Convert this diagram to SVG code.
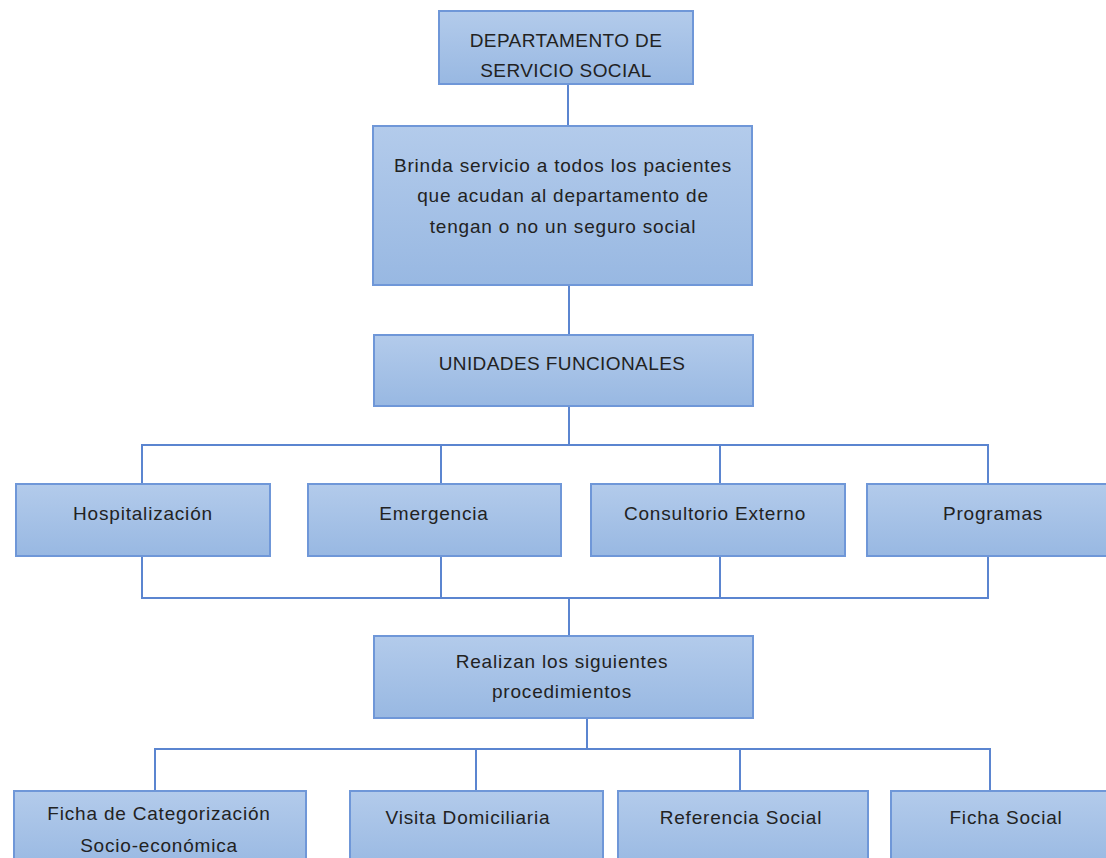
<svg xmlns="http://www.w3.org/2000/svg" width="1106" height="858" viewBox="0 0 1106 858">
<defs>
<linearGradient id="g" x1="0" y1="0" x2="0" y2="1">
<stop offset="0" stop-color="#b3cbeb"/>
<stop offset="1" stop-color="#98b8e2"/>
</linearGradient>
</defs>
<style>
.box{fill:url(#g);stroke:#6f97d8;stroke-width:2}
.t{font-family:"Liberation Sans",Arial,sans-serif;font-size:19px;letter-spacing:0.8px;fill:#222;text-anchor:middle}
.u{letter-spacing:0.4px}
.c{fill:none;stroke:#5b85d0;stroke-width:2}
</style>
<rect width="1106" height="858" fill="#fff"/>
<g id="connectors">
<path class="c" d="M568 84V126"/>
<path class="c" d="M569 285V335"/>
<path class="c" d="M569 406V445"/>
<path class="c" d="M142 484V445H988V484M441 445V484M720 445V484"/>
<path class="c" d="M142 556V598H988V556M441 556V598M720 556V598"/>
<path class="c" d="M569 598V636"/>
<path class="c" d="M587 718V749"/>
<path class="c" d="M155 791V749H990V791M476 749V791M740 749V791"/>
</g>
<g id="n1"><rect class="box" x="439" y="11" width="254" height="73"/>
<text class="t u" x="566" y="47">DEPARTAMENTO DE</text><text class="t u" x="566" y="77">SERVICIO SOCIAL</text></g>
<g id="n2"><rect class="box" x="373" y="126" width="379" height="159"/>
<text class="t" x="563" y="172">Brinda servicio a todos los pacientes</text>
<text class="t" x="563" y="202">que acudan al departamento de</text>
<text class="t" x="563" y="233">tengan o no un seguro social</text></g>
<g id="n3"><rect class="box" x="374" y="335" width="379" height="71"/>
<text class="t u" x="562" y="370">UNIDADES FUNCIONALES</text></g>
<g id="n4"><rect class="box" x="16" y="484" width="254" height="72"/>
<text class="t" x="143" y="520">Hospitalización</text></g>
<g id="n5"><rect class="box" x="308" y="484" width="253" height="72"/>
<text class="t" x="434" y="520">Emergencia</text></g>
<g id="n6"><rect class="box" x="591" y="484" width="254" height="72"/>
<text class="t" x="715" y="520">Consultorio Externo</text></g>
<g id="n7"><rect class="box" x="867" y="484" width="245" height="72"/>
<text class="t" x="993" y="520">Programas</text></g>
<g id="n8"><rect class="box" x="374" y="636" width="379" height="82"/>
<text class="t" x="562" y="668">Realizan los siguientes</text>
<text class="t" x="562" y="698">procedimientos</text></g>
<g id="n9"><rect class="box" x="14" y="791" width="292" height="80"/>
<text class="t" x="159" y="820">Ficha de Categorización</text>
<text class="t" x="159" y="852">Socio-económica</text></g>
<g id="n10"><rect class="box" x="350" y="791" width="253" height="80"/>
<text class="t" x="468" y="824">Visita Domiciliaria</text></g>
<g id="n11"><rect class="box" x="618" y="791" width="250" height="80"/>
<text class="t" x="741" y="824">Referencia Social</text></g>
<g id="n12"><rect class="box" x="891" y="791" width="225" height="80"/>
<text class="t" x="1006" y="824">Ficha Social</text></g>
</svg>
